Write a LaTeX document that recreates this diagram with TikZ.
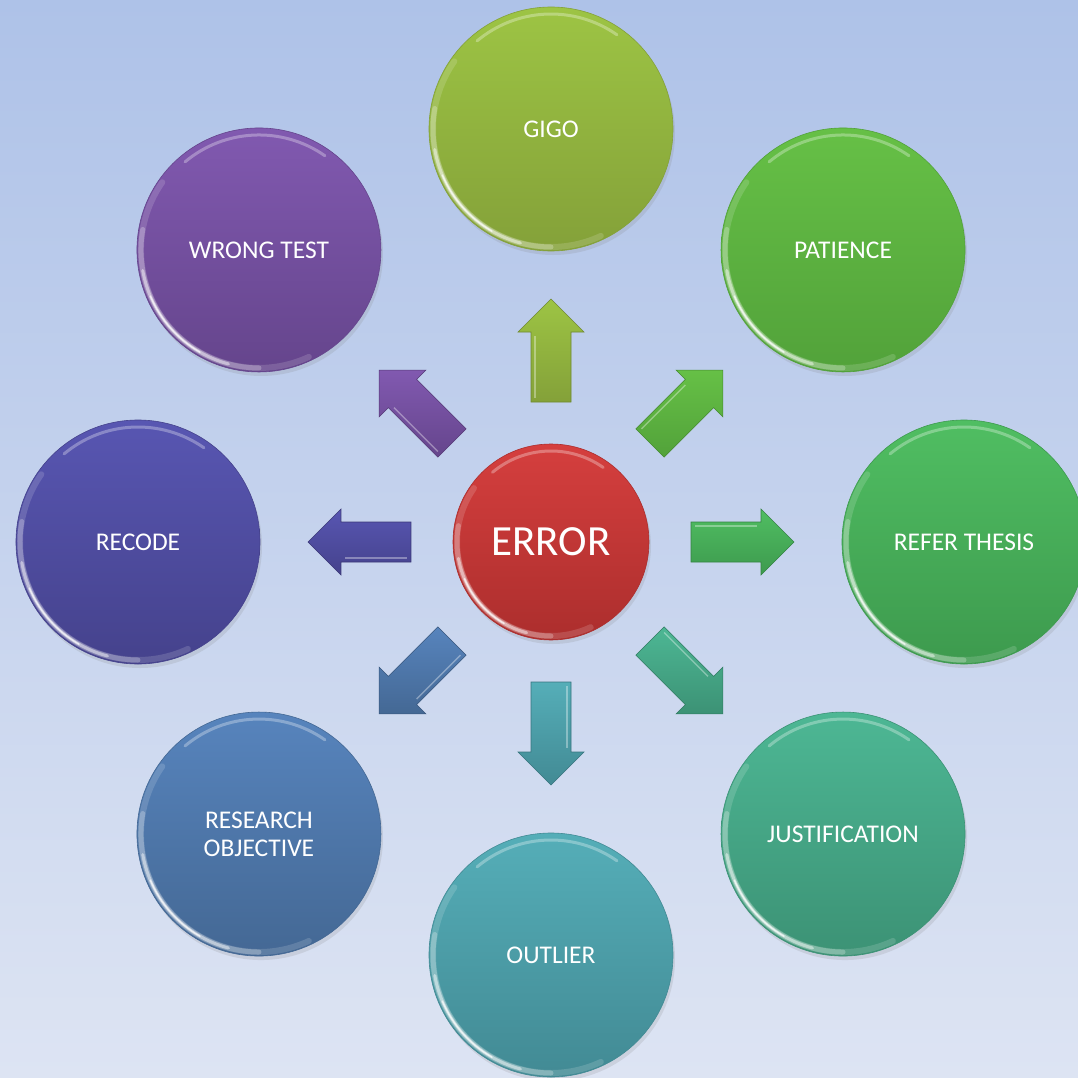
\documentclass[tikz,border=0pt]{standalone}
\usepackage{fontspec}
\setmainfont{Carlito}
\usetikzlibrary{calc,shadows}
\definecolor{bgtop}{HTML}{AEC2E8}
\definecolor{bgbot}{HTML}{DDE4F3}
\definecolor{gigoL}{HTML}{9DC444}\definecolor{gigoD}{HTML}{84A139}
\definecolor{patL}{HTML}{66C046}\definecolor{patD}{HTML}{52A23A}
\definecolor{refL}{HTML}{50BE62}\definecolor{refD}{HTML}{3D9A4E}
\definecolor{jusL}{HTML}{4DB794}\definecolor{jusD}{HTML}{3C9275}
\definecolor{outL}{HTML}{55AEB8}\definecolor{outD}{HTML}{428A94}
\definecolor{resL}{HTML}{5784BD}\definecolor{resD}{HTML}{446894}
\definecolor{recL}{HTML}{5856B2}\definecolor{recD}{HTML}{45428C}
\definecolor{wroL}{HTML}{8159B0}\definecolor{wroD}{HTML}{65458C}
\definecolor{errL}{HTML}{D53F3E}\definecolor{errD}{HTML}{AC2E2D}
\tikzset{
  bubble/.style={circle, minimum size=244pt, inner sep=0pt, text=white,
    font=\fontsize{25.5}{30}\selectfont, align=center, line width=0.6pt,
    drop shadow={shadow xshift=2pt, shadow yshift=-4pt, opacity=0.18}},
  bigbubble/.style={bubble, minimum size=196pt, font=\fontsize{43}{50}\selectfont},
  blockarrow/.style={line width=0.6pt, line join=miter},
  rim/.style={white, line cap=round}
}
\newcommand\gloss[2]{% node name, rim radius
  \draw[rim, opacity=0.15, line width=6pt]
    ($(#1.center)+(145:#2)$) arc[start angle=145, end angle=295, radius=#2];
  \draw[rim, opacity=0.25, line width=5pt]
    ($(#1.center)+(170:#2)$) arc[start angle=170, end angle=270, radius=#2];
  \draw[rim, opacity=0.45, line width=3pt]
    ($(#1.center)+(190:#2)$) arc[start angle=190, end angle=255, radius=#2];
  \draw[rim, opacity=0.7, line width=1.5pt]
    ($(#1.center)+(203:#2)$) arc[start angle=203, end angle=240, radius=#2];
  \draw[rim, opacity=0.3, line width=3pt]
    ($(#1.center)+(55:#2-3pt)$) arc[start angle=55, end angle=130, radius=#2-3pt];
}
\newcommand\blockarr[4]{% name, angle, light, dark
  \coordinate (#1) at (#2:191);
  \path[blockarrow, top color=#3, bottom color=#4, draw=#4!85!black]
    ($(#2:140)+(#2+90:20)$) -- ($(#2:210)+(#2+90:20)$) -- ($(#2:210)+(#2+90:33)$)
    -- (#2:243) -- ($(#2:210)+(#2-90:33)$) -- ($(#2:210)+(#2-90:20)$)
    -- ($(#2:140)+(#2-90:20)$) -- cycle;
  \draw[white, opacity=0.35, line width=1.5pt]
    ($(#2:144)+(#2+90:16)$) -- ($(#2:206)+(#2+90:16)$);
}
\begin{document}
\begin{tikzpicture}[x=1pt,y=1pt]
\fill[top color=bgtop,bottom color=bgbot] (-551,-535) rectangle (527,542);
\useasboundingbox (-551,-535) rectangle (527,542);

\node[bubble, top color=gigoL, bottom color=gigoD, draw=gigoD] (gigo) at (90:413) {GIGO};
\node[bubble, top color=patL, bottom color=patD, draw=patD] (pat) at (45:413) {PATIENCE};
\node[bubble, top color=refL, bottom color=refD, draw=refD] (ref) at (0:413) {REFER THESIS};
\node[bubble, top color=jusL, bottom color=jusD, draw=jusD] (jus) at (-45:413) {JUSTIFICATION};
\node[bubble, top color=outL, bottom color=outD, draw=outD] (out) at (-90:413) {OUTLIER};
\node[bubble, top color=resL, bottom color=resD, draw=resD] (res) at (-135:413) {RESEARCH\\[-2pt]OBJECTIVE};
\node[bubble, top color=recL, bottom color=recD, draw=recD] (rec) at (180:413) {RECODE};
\node[bubble, top color=wroL, bottom color=wroD, draw=wroD] (wro) at (135:413) {WRONG TEST};
\node[bigbubble, top color=errL, bottom color=errD, draw=errD] (err) at (0,0) {ERROR};

\foreach \n in {gigo,pat,ref,jus,out,res,rec,wro} {\gloss{\n}{118pt}}
\gloss{err}{94pt}

\blockarr{a1}{90}{gigoL}{gigoD}
\blockarr{a2}{45}{patL}{patD}
\blockarr{a3}{0}{refL}{refD}
\blockarr{a4}{-45}{jusL}{jusD}
\blockarr{a5}{-90}{outL}{outD}
\blockarr{a6}{-135}{resL}{resD}
\blockarr{a7}{180}{recL}{recD}
\blockarr{a8}{135}{wroL}{wroD}
\end{tikzpicture}
\end{document}
